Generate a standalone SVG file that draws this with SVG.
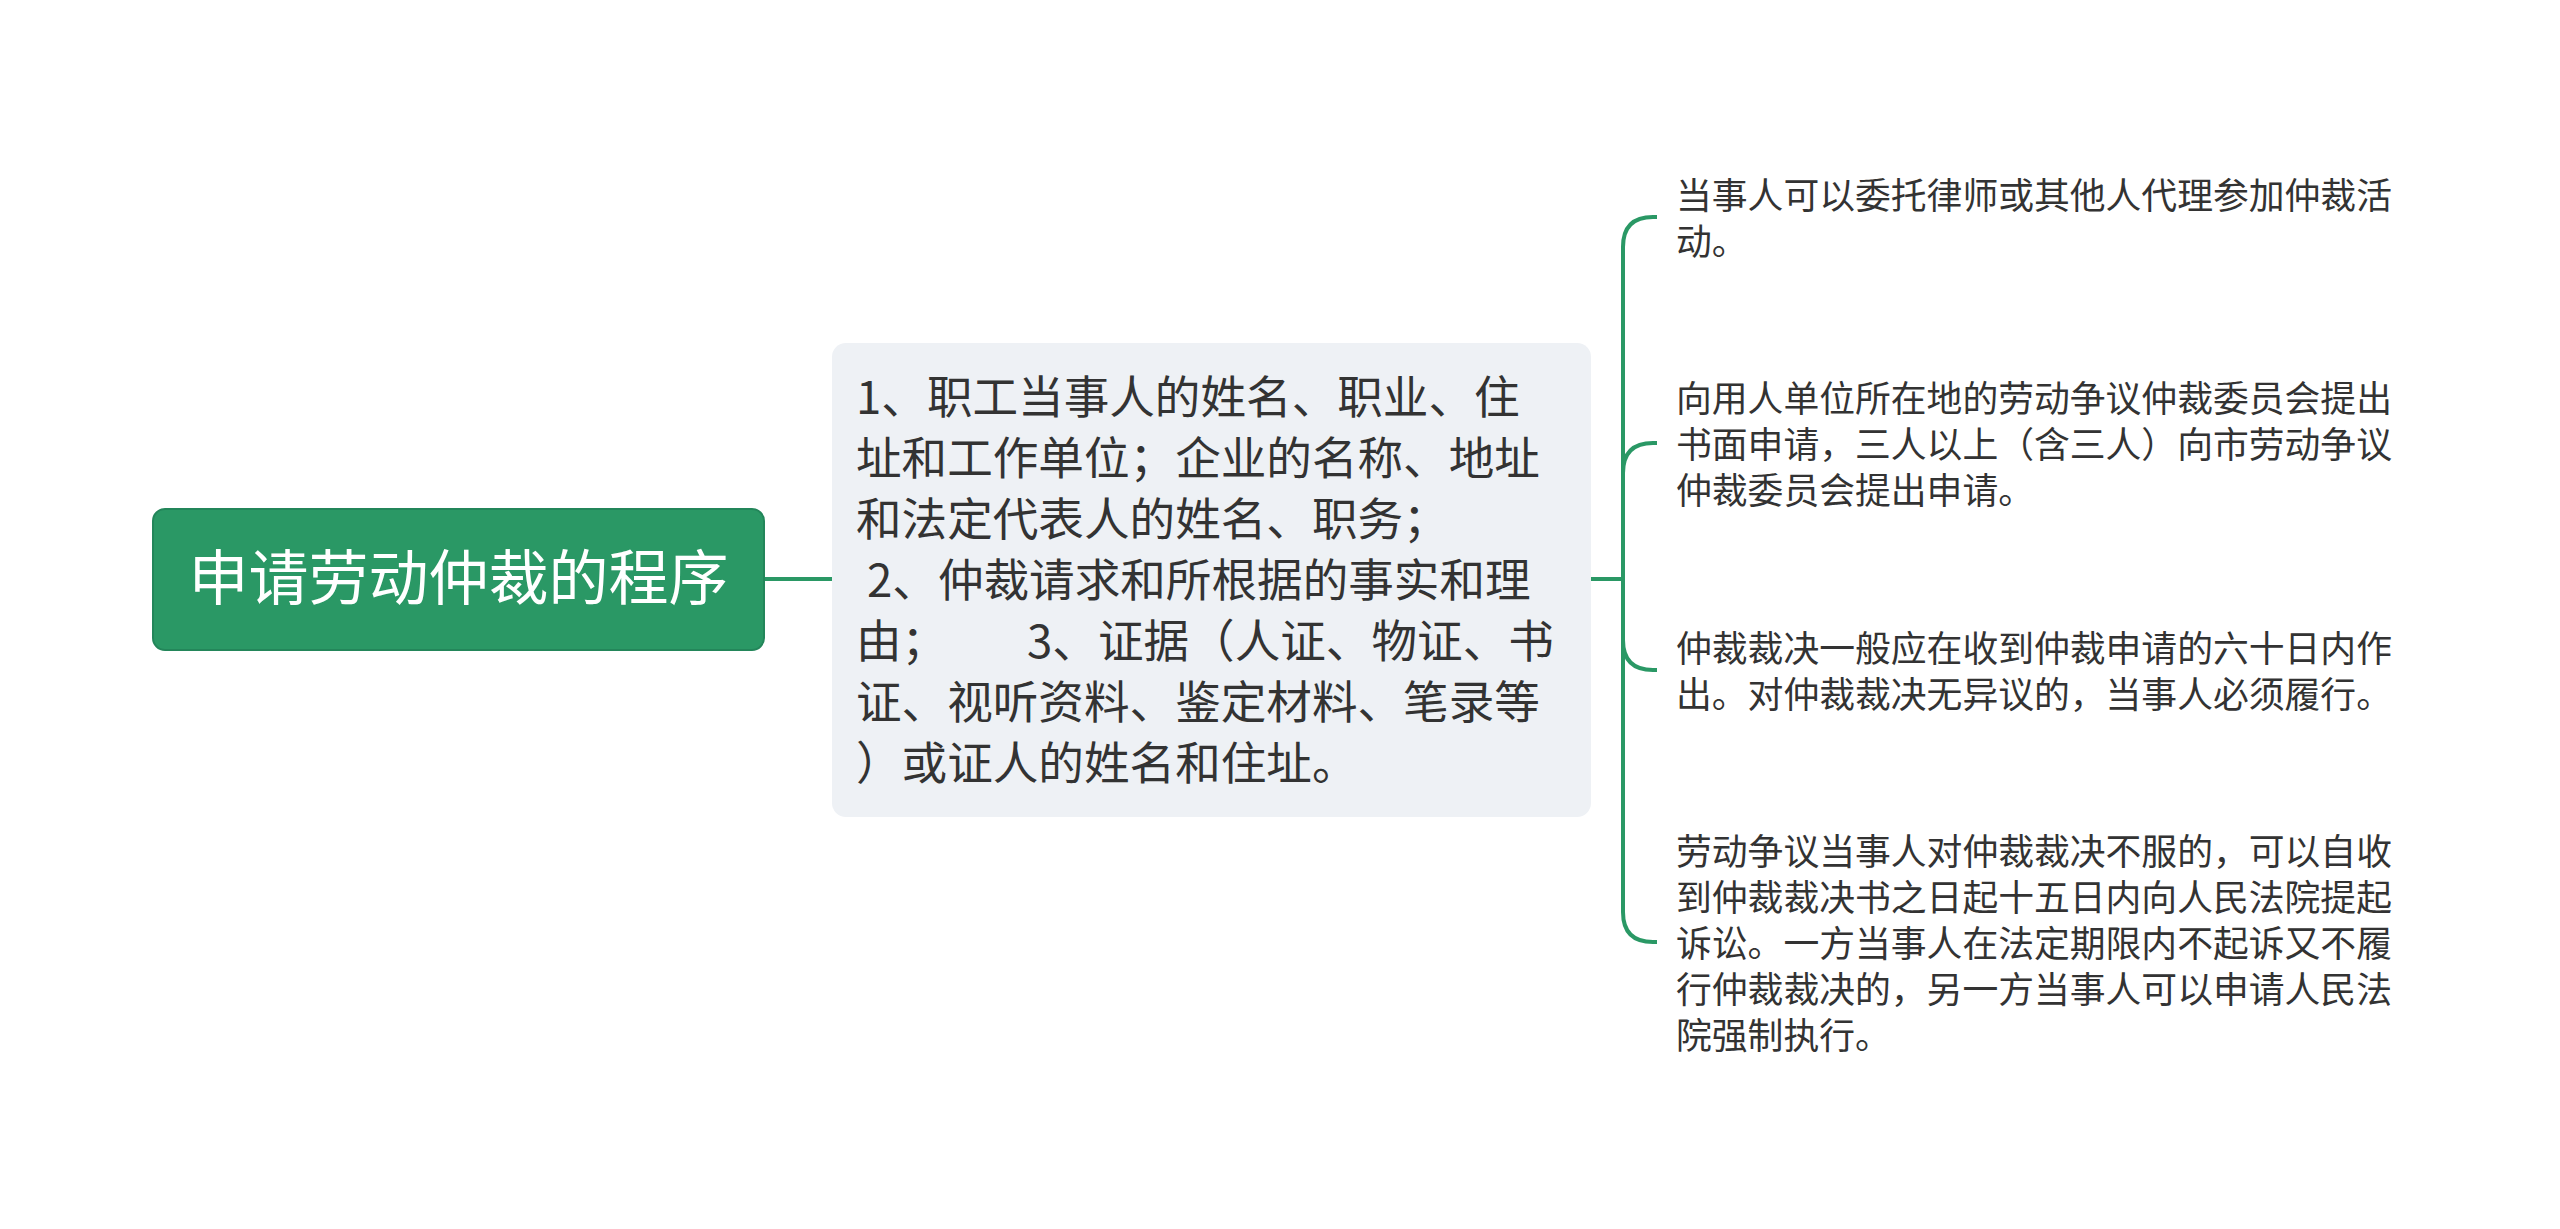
<svg xmlns="http://www.w3.org/2000/svg" width="2560" height="1229" viewBox="0 0 2560 1229">
<style>
.cjk{font-family:"Noto Sans CJK SC","Noto Sans",sans-serif}
.root-t{font-size:60px;fill:#ffffff}
.mid-t{font-size:45.6px;fill:#333333}
.leaf-t{font-size:35.8px;fill:#333333}
.conn{fill:none;stroke:#2a9865;stroke-width:4}
</style>
<rect width="2560" height="1229" fill="#ffffff"/>
<g id="connectors">
<path class="conn" d="M764,579 H832"/>
<path class="conn" d="M1591,579 H1623 V247 Q1623,217 1653,217 H1657"/>
<path class="conn" d="M1623,579 V473 Q1623,443 1653,443 H1657"/>
<path class="conn" d="M1623,579 V640 Q1623,670 1653,670 H1657"/>
<path class="conn" d="M1623,579 V912 Q1623,942 1653,942 H1657"/>
</g>
<g id="root">
<rect x="153" y="509" width="611" height="141" rx="12" fill="#2a9865" stroke="#23865a" stroke-width="2"/>
<text class="cjk root-t" x="458.5" y="600" text-anchor="middle">申请劳动仲裁的程序</text>
</g>
<g id="mid">
<rect x="832" y="343" width="759" height="474" rx="14" fill="#eef1f5"/>
<text class="cjk mid-t">
<tspan x="856" y="414">1、职工当事人的姓名、职业、住</tspan>
<tspan x="856" y="475">址和工作单位；企业的名称、地址</tspan>
<tspan x="856" y="536">和法定代表人的姓名、职务；</tspan>
<tspan x="867" y="597">2、仲裁请求和所根据的事实和理</tspan>
<tspan x="856" y="658">由；</tspan><tspan x="1027" y="658">3、证据（人证、物证、书</tspan>
<tspan x="856" y="719">证、视听资料、鉴定材料、笔录等</tspan>
<tspan x="856" y="780">）或证人的姓名和住址。</tspan>
</text>
</g>
<g id="leaf1">
<text class="cjk leaf-t">
<tspan x="1676" y="209">当事人可以委托律师或其他人代理参加仲裁活</tspan>
<tspan x="1676" y="255">动。</tspan>
</text>
</g>
<g id="leaf2">
<text class="cjk leaf-t">
<tspan x="1676" y="412">向用人单位所在地的劳动争议仲裁委员会提出</tspan>
<tspan x="1676" y="458">书面申请，三人以上（含三人）向市劳动争议</tspan>
<tspan x="1676" y="504">仲裁委员会提出申请。</tspan>
</text>
</g>
<g id="leaf3">
<text class="cjk leaf-t">
<tspan x="1676" y="662">仲裁裁决一般应在收到仲裁申请的六十日内作</tspan>
<tspan x="1676" y="708">出。对仲裁裁决无异议的，当事人必须履行。</tspan>
</text>
</g>
<g id="leaf4">
<text class="cjk leaf-t">
<tspan x="1676" y="865">劳动争议当事人对仲裁裁决不服的，可以自收</tspan>
<tspan x="1676" y="911">到仲裁裁决书之日起十五日内向人民法院提起</tspan>
<tspan x="1676" y="957">诉讼。一方当事人在法定期限内不起诉又不履</tspan>
<tspan x="1676" y="1003">行仲裁裁决的，另一方当事人可以申请人民法</tspan>
<tspan x="1676" y="1049">院强制执行。</tspan>
</text>
</g>
</svg>
